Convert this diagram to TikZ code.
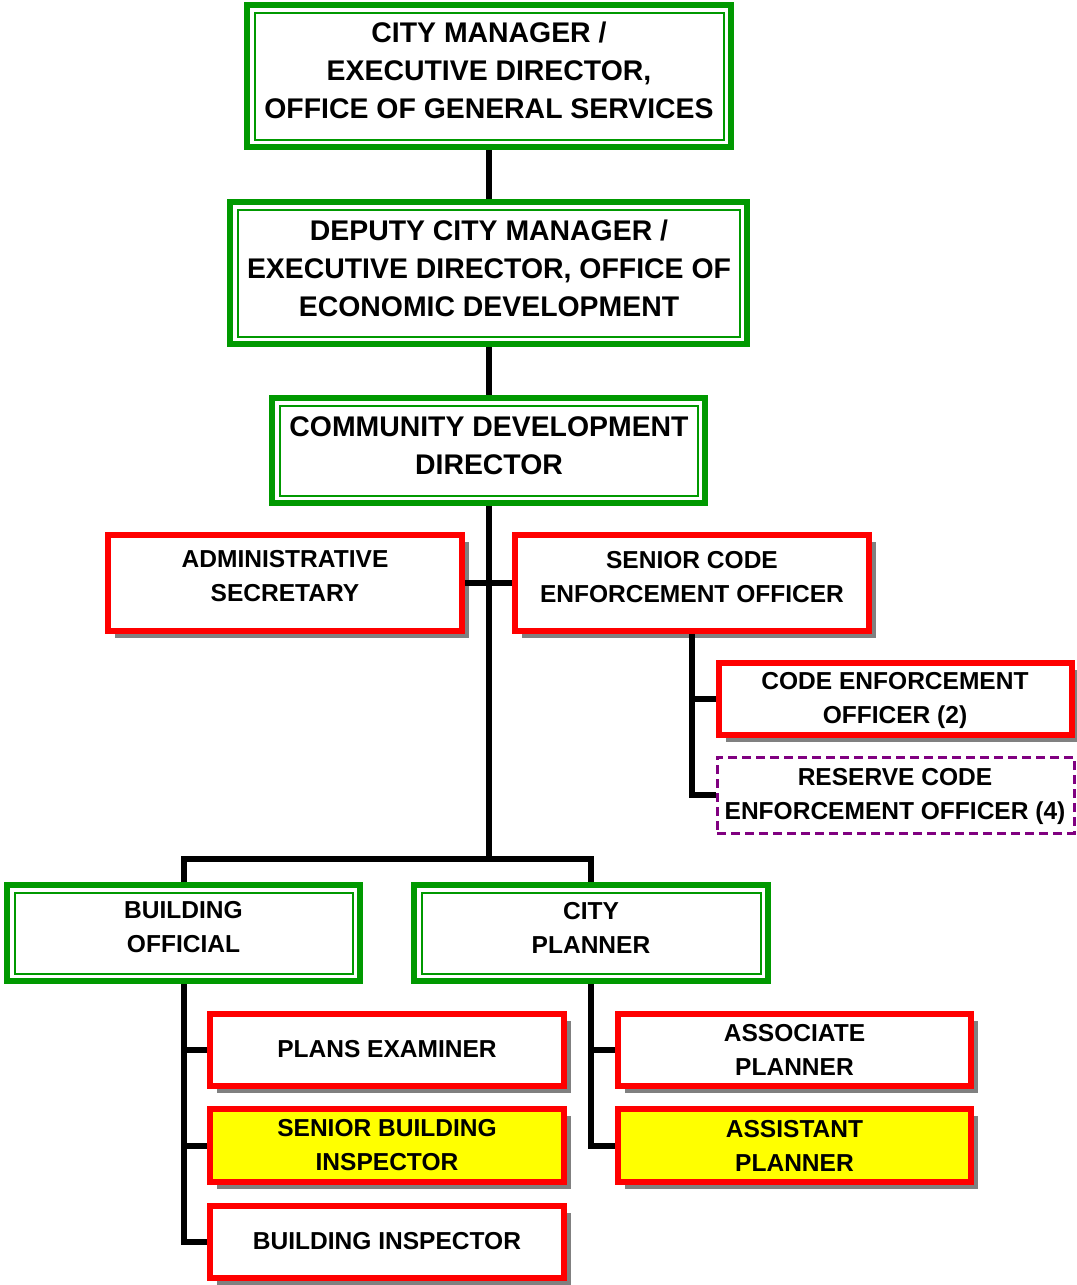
\documentclass[tikz,border=0pt]{standalone}
\usepackage{fontspec}
\setmainfont{Liberation Sans}
\usetikzlibrary{shadows}
\definecolor{orggreen}{RGB}{0,153,0}
\definecolor{orgred}{RGB}{255,0,0}
\definecolor{orgpurple}{RGB}{128,0,128}
\definecolor{orgyellow}{RGB}{255,255,0}
\definecolor{orgshadow}{RGB}{128,128,128}

\begin{document}
\begin{tikzpicture}[x=0.75pt,y=-0.75pt,
  boxsize/.style 2 args={minimum width=#1*0.75pt, minimum height=#2*0.75pt},
  base/.style={rectangle, inner sep=0pt, fill=white},
  greenbox/.style={base, draw=orggreen, line width=4.5pt},
  redbox/.style={base, draw=orgred, line width=4.5pt,
    drop shadow={shadow xshift=5pt, shadow yshift=-5pt, fill=orgshadow, opacity=1}},
  yellowbox/.style={redbox, fill=orgyellow},
  reservebox/.style={base, draw=orgpurple, line width=2.25pt, dash pattern=on 6.75pt off 3.75pt},
  innerline/.style={draw=orggreen, line width=1.5pt},
  bigtext/.style={align=center, inner sep=0pt, font=\fontsize{21.3}{28.5}\selectfont\bfseries},
  smalltext/.style={align=center, inner sep=0pt, font=\fontsize{18.4}{25.5}\selectfont\bfseries},
  link/.style={line width=4.5pt, black}
]
\useasboundingbox (0,0) rectangle (1077,1285);

% --- management chain (green, double framed)
\node[greenbox, boxsize={484}{142}] (cm)  at (489,76)    {};
\node[greenbox, boxsize={517}{142}] (dep) at (488.5,273) {};
\node[greenbox, boxsize={433}{105}] (cdd) at (488.5,450.5) {};
\node[greenbox, boxsize={353}{96}]  (bo)  at (183.5,933) {};
\node[greenbox, boxsize={354}{96}]  (cp)  at (591,933)   {};
\foreach \n in {cm,dep,cdd,bo,cp}
  \draw[innerline] ([shift={(10.5,10.5)}]\n.north west) rectangle ([shift={(-10.5,-10.5)}]\n.south east);

% --- staff positions (red, shadowed)
\node[redbox, boxsize={354}{96}] (adm) at (285,583)    {};
\node[redbox, boxsize={354}{96}] (sco) at (692,583)    {};
\node[redbox, boxsize={353}{72}] (ceo) at (895.5,699)  {};
\node[reservebox, boxsize={357}{76}] (res) at (895.5,795) {};
\node[redbox, boxsize={354}{72}] (pe)  at (387,1050)   {};
\node[yellowbox, boxsize={354}{73}] (sbi) at (387,1145.5) {};
\node[redbox, boxsize={354}{72}] (bi)  at (387,1242)   {};
\node[redbox, boxsize={353}{72}] (ap)  at (794.5,1050) {};
\node[yellowbox, boxsize={353}{73}] (asp) at (794.5,1145.5) {};

% --- titles
\node[bigtext] (cm-t)  at (489,70)  {CITY MANAGER /\\EXECUTIVE DIRECTOR,\\OFFICE OF GENERAL SERVICES};
\node[bigtext] (dep-t) at (489,268) {DEPUTY CITY MANAGER /\\EXECUTIVE DIRECTOR, OFFICE OF\\ECONOMIC DEVELOPMENT};
\node[bigtext] (cdd-t) at (489,446) {COMMUNITY DEVELOPMENT\\DIRECTOR};
\node[smalltext] (adm-t) at (285,576)  {ADMINISTRATIVE\\SECRETARY};
\node[smalltext] (sco-t) at (692,577)  {SENIOR CODE\\ENFORCEMENT OFFICER};
\node[smalltext] (ceo-t) at (895,700)  {CODE ENFORCEMENT\\OFFICER (2)};
\node[smalltext] (res-t) at (895,796)  {RESERVE CODE\\ENFORCEMENT OFFICER (4)};
\node[smalltext] (bo-t)  at (183.5,927.5) {BUILDING\\OFFICIAL};
\node[smalltext] (cp-t)  at (591,927.5)   {CITY\\PLANNER};
\node[smalltext] (pe-t)  at (387,1049)    {PLANS EXAMINER};
\node[smalltext] (sbi-t) at (387,1145.5)  {SENIOR BUILDING\\INSPECTOR};
\node[smalltext] (bi-t)  at (387,1241)    {BUILDING INSPECTOR};
\node[smalltext] (ap-t)  at (794.5,1050)  {ASSOCIATE\\PLANNER};
\node[smalltext] (asp-t) at (794.5,1145.5){ASSISTANT\\PLANNER};

% --- reporting lines
\coordinate (j) at (489,859);
\draw[link] (cm.south) -- (cm.south |- dep.north);
\draw[link] (cm.south |- dep.south) -- (cm.south |- cdd.north);
\draw[link] (cm.south |- cdd.south) -- (j);
\draw[link] (adm.east) -- (sco.west);
\draw[link] (bo.north) |- (j) -| (cp.north);
\draw[link] (sco.south) |- (ceo.west);
\draw[link] (sco.south) |- (res.west);
\draw[link] (bo.south) |- (pe.west);
\draw[link] (bo.south) |- (sbi.west);
\draw[link] (bo.south) |- (bi.west);
\draw[link] (cp.south) |- (ap.west);
\draw[link] (cp.south) |- (asp.west);
\end{tikzpicture}
\end{document}
